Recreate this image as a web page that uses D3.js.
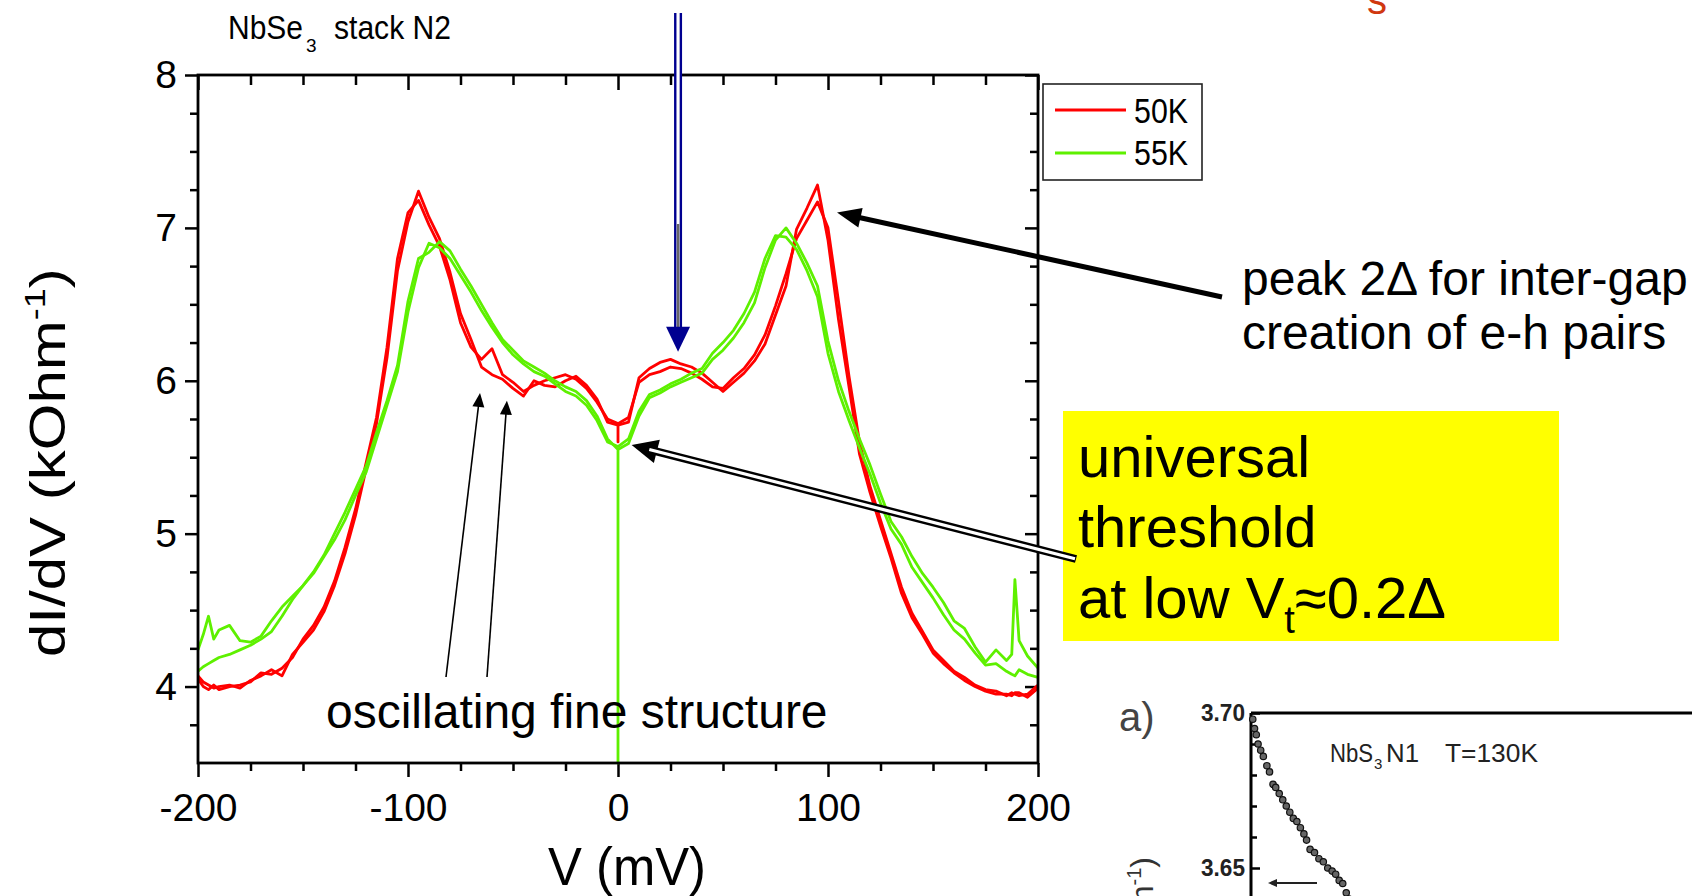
<!DOCTYPE html>
<html><head><meta charset="utf-8">
<script src="https://cdn.jsdelivr.net/npm/d3@7"></script>
<style>
html,body{margin:0;padding:0;background:#fff;overflow:hidden}
svg{display:block}
text{font-family:"Liberation Sans",Arial,sans-serif;fill:#000}
</style>
</head><body>
<svg id="c" width="1692" height="896"></svg>
<script>
// ---------------- data ----------------
const voltage = [-200,-197.5,-195,-192.5,-190,
 -185,-180,-175,-170,-165,-160,-155,-150,-145,-140,
 -135,-130,-125,-120,-115,-110,-105,-100,-95,-90,
 -85,-80,-75,-70,-65,-60,-55,-50,-45,-40,
 -35,-30,-25,-20,-15,-10,-5,
 0,0,0,
 5,10,15,20,25,30,35,40,45,50,
 55,60,65,70,75,80,85,90,95,100,
 105,110,115,120,125,130,135,140,145,150,
 155,160,165,170,175,180,185,
 187.5,189,191,195,200];

const red50a = [4.07,4.03,4.01,3.99,4.00,
 4.01,3.99,4.04,4.07,4.11,4.07,4.21,4.29,4.37,4.49,
 4.66,4.87,5.12,5.42,5.72,6.15,6.72,7.04,7.24,7.07,
 6.93,6.71,6.44,6.27,6.09,6.04,6.01,5.95,5.90,6.00,
 5.97,5.96,6.00,6.03,5.97,5.88,5.73,
 5.71,5.60,5.71,
 5.73,6.02,6.08,6.12,6.14,6.11,6.09,6.05,5.99,5.93,
 5.99,6.05,6.13,6.24,6.43,6.62,6.99,7.13,7.28,6.92,
 6.40,5.96,5.52,5.27,5.05,4.84,4.61,4.45,4.34,4.22,
 4.15,4.09,4.04,4.00,3.97,3.95,3.95,
 3.94,3.96,3.96,3.93,3.99];

const red50b = [4.05,4.00,3.98,4.01,3.98,
 4.00,4.01,4.03,4.09,4.08,4.12,4.19,4.31,4.40,4.52,
 4.69,4.91,5.16,5.46,5.76,6.22,6.80,7.10,7.18,7.02,
 6.88,6.66,6.38,6.22,6.14,6.21,6.04,5.99,5.93,5.97,
 6.00,6.02,6.04,6.01,5.95,5.86,5.75,
 5.72,5.72,5.72,
 5.76,5.99,6.04,6.06,6.09,6.08,6.05,6.01,5.96,5.95,
 6.02,6.08,6.17,6.30,6.49,6.70,6.93,7.05,7.17,7.00,
 6.52,6.03,5.60,5.31,5.09,4.87,4.65,4.48,4.36,4.24,
 4.17,4.10,4.06,4.01,3.98,3.97,3.94,
 3.96,3.95,3.94,3.95,4.01];

const green55a = [4.24,4.34,4.46,4.31,4.37,
 4.40,4.30,4.29,4.33,4.43,4.52,4.59,4.66,4.75,4.86,
 5.00,5.14,5.29,5.44,5.66,5.87,6.10,6.52,6.80,6.84,
 6.91,6.85,6.73,6.62,6.50,6.38,6.27,6.20,6.13,6.09,
 6.05,6.00,5.96,5.93,5.87,5.77,5.62,
 5.55,3.50,5.55,
 5.59,5.77,5.89,5.92,5.96,5.99,6.02,6.05,6.14,6.20,
 6.28,6.38,6.51,6.74,6.92,7.00,6.90,6.77,6.62,6.26,
 6.00,5.80,5.62,5.45,5.26,5.08,4.98,4.85,4.74,4.65,
 4.55,4.43,4.38,4.26,4.16,4.24,4.17,
 4.21,4.70,4.30,4.20,4.12];

const green55b = [4.10,4.13,4.15,4.17,4.19,
 4.21,4.24,4.27,4.31,4.36,4.46,4.57,4.66,4.74,4.85,
 4.96,5.09,5.25,5.40,5.62,5.84,6.06,6.45,6.74,6.90,
 6.87,6.80,6.69,6.58,6.46,6.35,6.25,6.17,6.11,6.06,
 6.03,5.98,5.93,5.90,5.84,5.74,5.60,
 5.57,5.57,5.57,
 5.62,5.80,5.91,5.94,5.98,6.01,6.05,6.08,6.18,6.25,
 6.33,6.44,6.58,6.80,6.95,6.94,6.86,6.72,6.55,6.18,
 5.93,5.74,5.56,5.39,5.20,5.03,4.93,4.78,4.68,4.58,
 4.47,4.37,4.31,4.22,4.14,4.15,4.10,
 4.08,4.07,4.11,4.08,4.06];

const seriesNames = ["50K", "55K"];
const xTicksMajor = [-200, -100, 0, 100, 200];
const xTicksMinor = [-175,-150,-125,-75,-50,-25,25,50,75,125,150,175];
const yTicksMajor = [4, 5, 6, 7, 8];
const yTicksMinor = [3.75,4.25,4.5,4.75,5.25,5.5,5.75,6.25,6.5,6.75,7.25,7.5,7.75];

// inset (cut-off second figure)
const insetX = [0.2,0.4,0.6,0.8,1.1,1.4,1.8,2.1,2.5,2.8,3.2,3.6,4.0,4.4,4.8,5.2,5.6,6.0,6.3,6.7,7.2,7.7,8.2,8.7,9.2,9.6,10.0,10.4,10.8,11.1];
const insetY = [3.698,3.695,3.693,3.690,3.688,3.686,3.683,3.681,3.677,3.676,3.674,3.672,3.670,3.668,3.666,3.665,3.663,3.661,3.659,3.656,3.655,3.653,3.652,3.650,3.649,3.648,3.646,3.645,3.642,3.640];
const insetYTicksMajor = [3.65, 3.70];
const insetYTicksMinor = [3.66, 3.67, 3.68, 3.69];

// ---------------- layout ----------------
const svg = d3.select("#c");
const L = 198, R = 1038, T = 75, B = 763;
const x = d3.scaleLinear().domain([-200, 200]).range([L, R]);
const y = d3.scaleLinear().domain([3.5, 8]).range([B, T]);
const RED = "#ff0000", GREEN = "#5ef000", NAVY = "#000090";
const fmt = d => String(d);

function styleAxis(g, sw) {
  g.select(".domain").remove();
  g.selectAll(".tick line").attr("stroke", "#000").attr("stroke-width", sw);
  g.selectAll(".tick text").attr("font-family", "Liberation Sans, Arial, sans-serif")
    .attr("font-size", 39).attr("fill", "#000");
}

// bottom axis (outward ticks)
svg.append("g").attr("transform", `translate(0,${B})`)
  .call(d3.axisBottom(x).tickValues(xTicksMajor).tickSizeInner(14).tickSizeOuter(0).tickPadding(16).tickFormat(fmt))
  .call(g => styleAxis(g, 2.5));
svg.append("g").attr("transform", `translate(0,${B})`)
  .call(d3.axisBottom(x).tickValues(xTicksMinor).tickSizeInner(8).tickSizeOuter(0).tickFormat(""))
  .call(g => styleAxis(g, 2.5));
// top axis (inward ticks)
svg.append("g").attr("transform", `translate(0,${T})`)
  .call(d3.axisTop(x).tickValues(xTicksMajor).tickSizeInner(-15).tickSizeOuter(0).tickFormat(""))
  .call(g => styleAxis(g, 2.5));
svg.append("g").attr("transform", `translate(0,${T})`)
  .call(d3.axisTop(x).tickValues(xTicksMinor).tickSizeInner(-10).tickSizeOuter(0).tickFormat(""))
  .call(g => styleAxis(g, 2.5));
// left axis (outward ticks)
svg.append("g").attr("transform", `translate(${L},0)`)
  .call(d3.axisLeft(y).tickValues(yTicksMajor).tickSizeInner(13).tickSizeOuter(0).tickPadding(8).tickFormat(fmt))
  .call(g => styleAxis(g, 2.5));
svg.append("g").attr("transform", `translate(${L},0)`)
  .call(d3.axisLeft(y).tickValues(yTicksMinor).tickSizeInner(8).tickSizeOuter(0).tickFormat(""))
  .call(g => styleAxis(g, 2.5));
// right axis (inward ticks)
svg.append("g").attr("transform", `translate(${R},0)`)
  .call(d3.axisRight(y).tickValues(yTicksMajor).tickSizeInner(-13).tickSizeOuter(0).tickFormat(""))
  .call(g => styleAxis(g, 2.5));
svg.append("g").attr("transform", `translate(${R},0)`)
  .call(d3.axisRight(y).tickValues(yTicksMinor).tickSizeInner(-8).tickSizeOuter(0).tickFormat(""))
  .call(g => styleAxis(g, 2.5));

// data traces
const idx = d3.range(voltage.length);
function trace(vals, color) {
  const line = d3.line().x(i => x(voltage[i])).y(i => y(vals[i]));
  svg.append("path").attr("d", line(idx)).attr("fill", "none")
    .attr("stroke", color).attr("stroke-width", 2.8).attr("stroke-linejoin", "round");
}
trace(red50a, RED);
trace(red50b, RED);
trace(green55a, GREEN);
trace(green55b, GREEN);

// frame
svg.append("rect").attr("x", L).attr("y", T).attr("width", R - L).attr("height", B - T)
  .attr("fill", "none").attr("stroke", "#000").attr("stroke-width", 2.8);

// axis titles
svg.append("text").attr("x", 548).attr("y", 885).attr("font-size", 53)
  .attr("textLength", 158).attr("lengthAdjust", "spacingAndGlyphs").text("V (mV)");
const yt = svg.append("g").attr("transform", "translate(65,657) rotate(-90) scale(1.2,1)")
  .append("text").attr("x", 0).attr("y", 0).attr("font-size", 50);
yt.append("tspan").text("dI/dV (kOhm");
yt.append("tspan").attr("font-size", 30).attr("dy", -20).text("-1");
yt.append("tspan").attr("dy", 20).text(")");

// chart title
svg.append("text").attr("x", 228).attr("y", 39).attr("font-size", 33)
  .attr("textLength", 75).attr("lengthAdjust", "spacingAndGlyphs").text("NbSe");
svg.append("text").attr("x", 306).attr("y", 52).attr("font-size", 19).text("3");
svg.append("text").attr("x", 334).attr("y", 39).attr("font-size", 33)
  .attr("textLength", 117).attr("lengthAdjust", "spacingAndGlyphs").text("stack N2");

// legend
const lg = svg.append("g");
lg.append("rect").attr("x", 1043).attr("y", 84).attr("width", 159).attr("height", 96)
  .attr("fill", "#fff").attr("stroke", "#222").attr("stroke-width", 1.6);
[[RED, 110, 123], [GREEN, 153, 165]].forEach((d, i) => {
  lg.append("line").attr("x1", 1055).attr("x2", 1126).attr("y1", d[1]).attr("y2", d[1])
    .attr("stroke", d[0]).attr("stroke-width", 3);
  lg.append("text").attr("x", 1134).attr("y", d[2]).attr("font-size", 35)
    .attr("textLength", 54).attr("lengthAdjust", "spacingAndGlyphs").text(seriesNames[i]);
});

// ---------------- annotations ----------------
function head(tip, from, len, hw, fill) {
  const dx = tip[0] - from[0], dy = tip[1] - from[1];
  const l = Math.hypot(dx, dy), ux = dx / l, uy = dy / l;
  const bx = tip[0] - ux * len, by = tip[1] - uy * len, px = -uy, py = ux;
  svg.append("path")
    .attr("d", `M${tip[0]},${tip[1]}L${bx + px * hw},${by + py * hw}L${bx - px * hw},${by - py * hw}Z`)
    .attr("fill", fill);
  return [tip[0] - ux * len * 0.7, tip[1] - uy * len * 0.7];
}

// blue vertical double arrow
{
  const tip = [x(28.6), y(6.19)], top = [tip[0], 13];
  const base = [tip[0], tip[1] - 22];
  svg.append("line").attr("x1", top[0]).attr("y1", top[1]).attr("x2", base[0]).attr("y2", base[1] + 2)
    .attr("stroke", NAVY).attr("stroke-width", 8);
  svg.append("line").attr("x1", top[0]).attr("y1", top[1]).attr("x2", base[0]).attr("y2", base[1] + 2)
    .attr("stroke", "#fff").attr("stroke-width", 3.2);
  svg.append("line").attr("x1", top[0]).attr("y1", 224).attr("x2", base[0]).attr("y2", base[1] + 2)
    .attr("stroke", "#666").attr("stroke-width", 2.5);
  head(tip, top, 25, 12, NAVY);
}

// peak arrow
{
  const tip = [x(104.3), y(7.10)], tail = [1222, 297];
  const b = head(tip, tail, 24, 10, "#000");
  svg.append("line").attr("x1", tail[0]).attr("y1", tail[1]).attr("x2", b[0]).attr("y2", b[1])
    .attr("stroke", "#000").attr("stroke-width", 5);
}
svg.append("text").attr("x", 1242).attr("y", 295).attr("font-size", 48).text("peak 2\u0394 for inter-gap");
svg.append("text").attr("x", 1242).attr("y", 349).attr("font-size", 48).text("creation of e-h pairs");

// oscillation arrows
[[x(-65.7), y(5.92), 446, 677], [x(-52.9), y(5.87), 487, 677]].forEach(a => {
  const b = head([a[0], a[1]], [a[2], a[3]], 14, 6, "#000");
  svg.append("line").attr("x1", a[2]).attr("y1", a[3]).attr("x2", b[0]).attr("y2", b[1])
    .attr("stroke", "#000").attr("stroke-width", 1.6);
});
svg.append("text").attr("x", 326).attr("y", 728).attr("font-size", 48).text("oscillating fine structure");

// yellow box
svg.append("rect").attr("x", 1063).attr("y", 411).attr("width", 496).attr("height", 230).attr("fill", "#ffff00");
svg.append("text").attr("x", 1078).attr("y", 477).attr("font-size", 58).text("universal");
svg.append("text").attr("x", 1078).attr("y", 547).attr("font-size", 58).text("threshold");
{
  const t = svg.append("text").attr("x", 1078).attr("y", 618).attr("font-size", 58);
  t.append("tspan").text("at low V");
  t.append("tspan").attr("font-size", 38).attr("dy", 15).text("t");
  t.append("tspan").attr("dy", -15).text("\u22480.2\u0394");
}

// threshold double arrow
{
  const tip = [x(6.5), y(5.58)], tail = [1076, 559];
  const b = head(tip, tail, 26, 12, "#000");
  svg.append("line").attr("x1", tail[0]).attr("y1", tail[1]).attr("x2", b[0]).attr("y2", b[1])
    .attr("stroke", "#000").attr("stroke-width", 8);
  svg.append("line").attr("x1", tail[0] - 1).attr("y1", tail[1] - 0.25).attr("x2", b[0]).attr("y2", b[1])
    .attr("stroke", "#fff").attr("stroke-width", 3.2);
}

// cut-off red letter at top
svg.append("text").attr("x", 1367).attr("y", 14).attr("font-size", 40)
  .style("fill", "#d03810").text("s");

// ---------------- inset (partial second figure) ----------------
const ix = d3.scaleLinear().domain([0, 50]).range([1251, 1692]);
const iy = d3.scaleLinear().domain([3.65, 3.70]).range([868, 713]);
svg.append("line").attr("x1", 1251).attr("x2", 1251).attr("y1", 713).attr("y2", 896)
  .attr("stroke", "#000").attr("stroke-width", 3);
svg.append("line").attr("x1", 1251).attr("x2", 1692).attr("y1", 713).attr("y2", 713)
  .attr("stroke", "#000").attr("stroke-width", 3);
svg.append("g").attr("transform", "translate(1251,0)")
  .call(d3.axisRight(iy).tickValues(insetYTicksMajor).tickSizeInner(9).tickSizeOuter(0).tickFormat(""))
  .call(g => styleAxis(g, 2.5));
svg.append("g").attr("transform", "translate(1251,0)")
  .call(d3.axisRight(iy).tickValues(insetYTicksMinor).tickSizeInner(6).tickSizeOuter(0).tickFormat(""))
  .call(g => styleAxis(g, 2.5));
insetYTicksMajor.forEach(v => {
  svg.append("text").attr("x", 1245).attr("y", iy(v) + 8).attr("text-anchor", "end")
    .attr("font-family", "Liberation Sans Narrow, Arial Narrow, sans-serif").attr("font-size", 24)
    .attr("font-weight", "bold").style("fill", "#222")
    .attr("textLength", 44).attr("lengthAdjust", "spacingAndGlyphs").text(v.toFixed(2));
});
svg.append("g").selectAll("circle").data(insetX).join("circle")
  .attr("cx", (d, i) => ix(d)).attr("cy", (d, i) => iy(insetY[i])).attr("r", 3.2)
  .attr("fill", "#666").attr("stroke", "#111").attr("stroke-width", 1.2);
svg.append("text").attr("x", 1119).attr("y", 731).attr("font-family", "Liberation Serif, Times New Roman, serif")
  .attr("font-size", 40).style("fill", "#444").text("a)");
{
  const nf = "Liberation Sans Narrow, Arial Narrow, sans-serif";
  svg.append("text").attr("x", 1330).attr("y", 762).attr("font-family", nf).attr("font-size", 26)
    .style("fill", "#222").attr("textLength", 43).attr("lengthAdjust", "spacingAndGlyphs").text("NbS");
  svg.append("text").attr("x", 1374).attr("y", 769).attr("font-family", nf).attr("font-size", 15)
    .style("fill", "#222").text("3");
  svg.append("text").attr("x", 1386).attr("y", 762).attr("font-family", nf).attr("font-size", 26)
    .style("fill", "#222").attr("textLength", 33).attr("lengthAdjust", "spacingAndGlyphs").text("N1");
  svg.append("text").attr("x", 1445).attr("y", 762).attr("font-family", nf).attr("font-size", 26)
    .style("fill", "#222").attr("textLength", 93).attr("lengthAdjust", "spacingAndGlyphs").text("T=130K");
}
{
  const tip = [1268, 883], tail = [1317, 883];
  const b = head(tip, tail, 9, 4, "#222");
  svg.append("line").attr("x1", tail[0]).attr("y1", tail[1]).attr("x2", b[0]).attr("y2", b[1])
    .attr("stroke", "#222").attr("stroke-width", 2);
}
{
  const t = svg.append("text").attr("transform", "translate(1153,857) rotate(-90)")
    .attr("text-anchor", "end").attr("font-size", 32).style("fill", "#333");
  t.append("tspan").text("dI/dV (kOhm");
  t.append("tspan").attr("font-size", 20).attr("dy", -12).text("-1");
  t.append("tspan").attr("dy", 12).text(")");
}
</script>
</body></html>
